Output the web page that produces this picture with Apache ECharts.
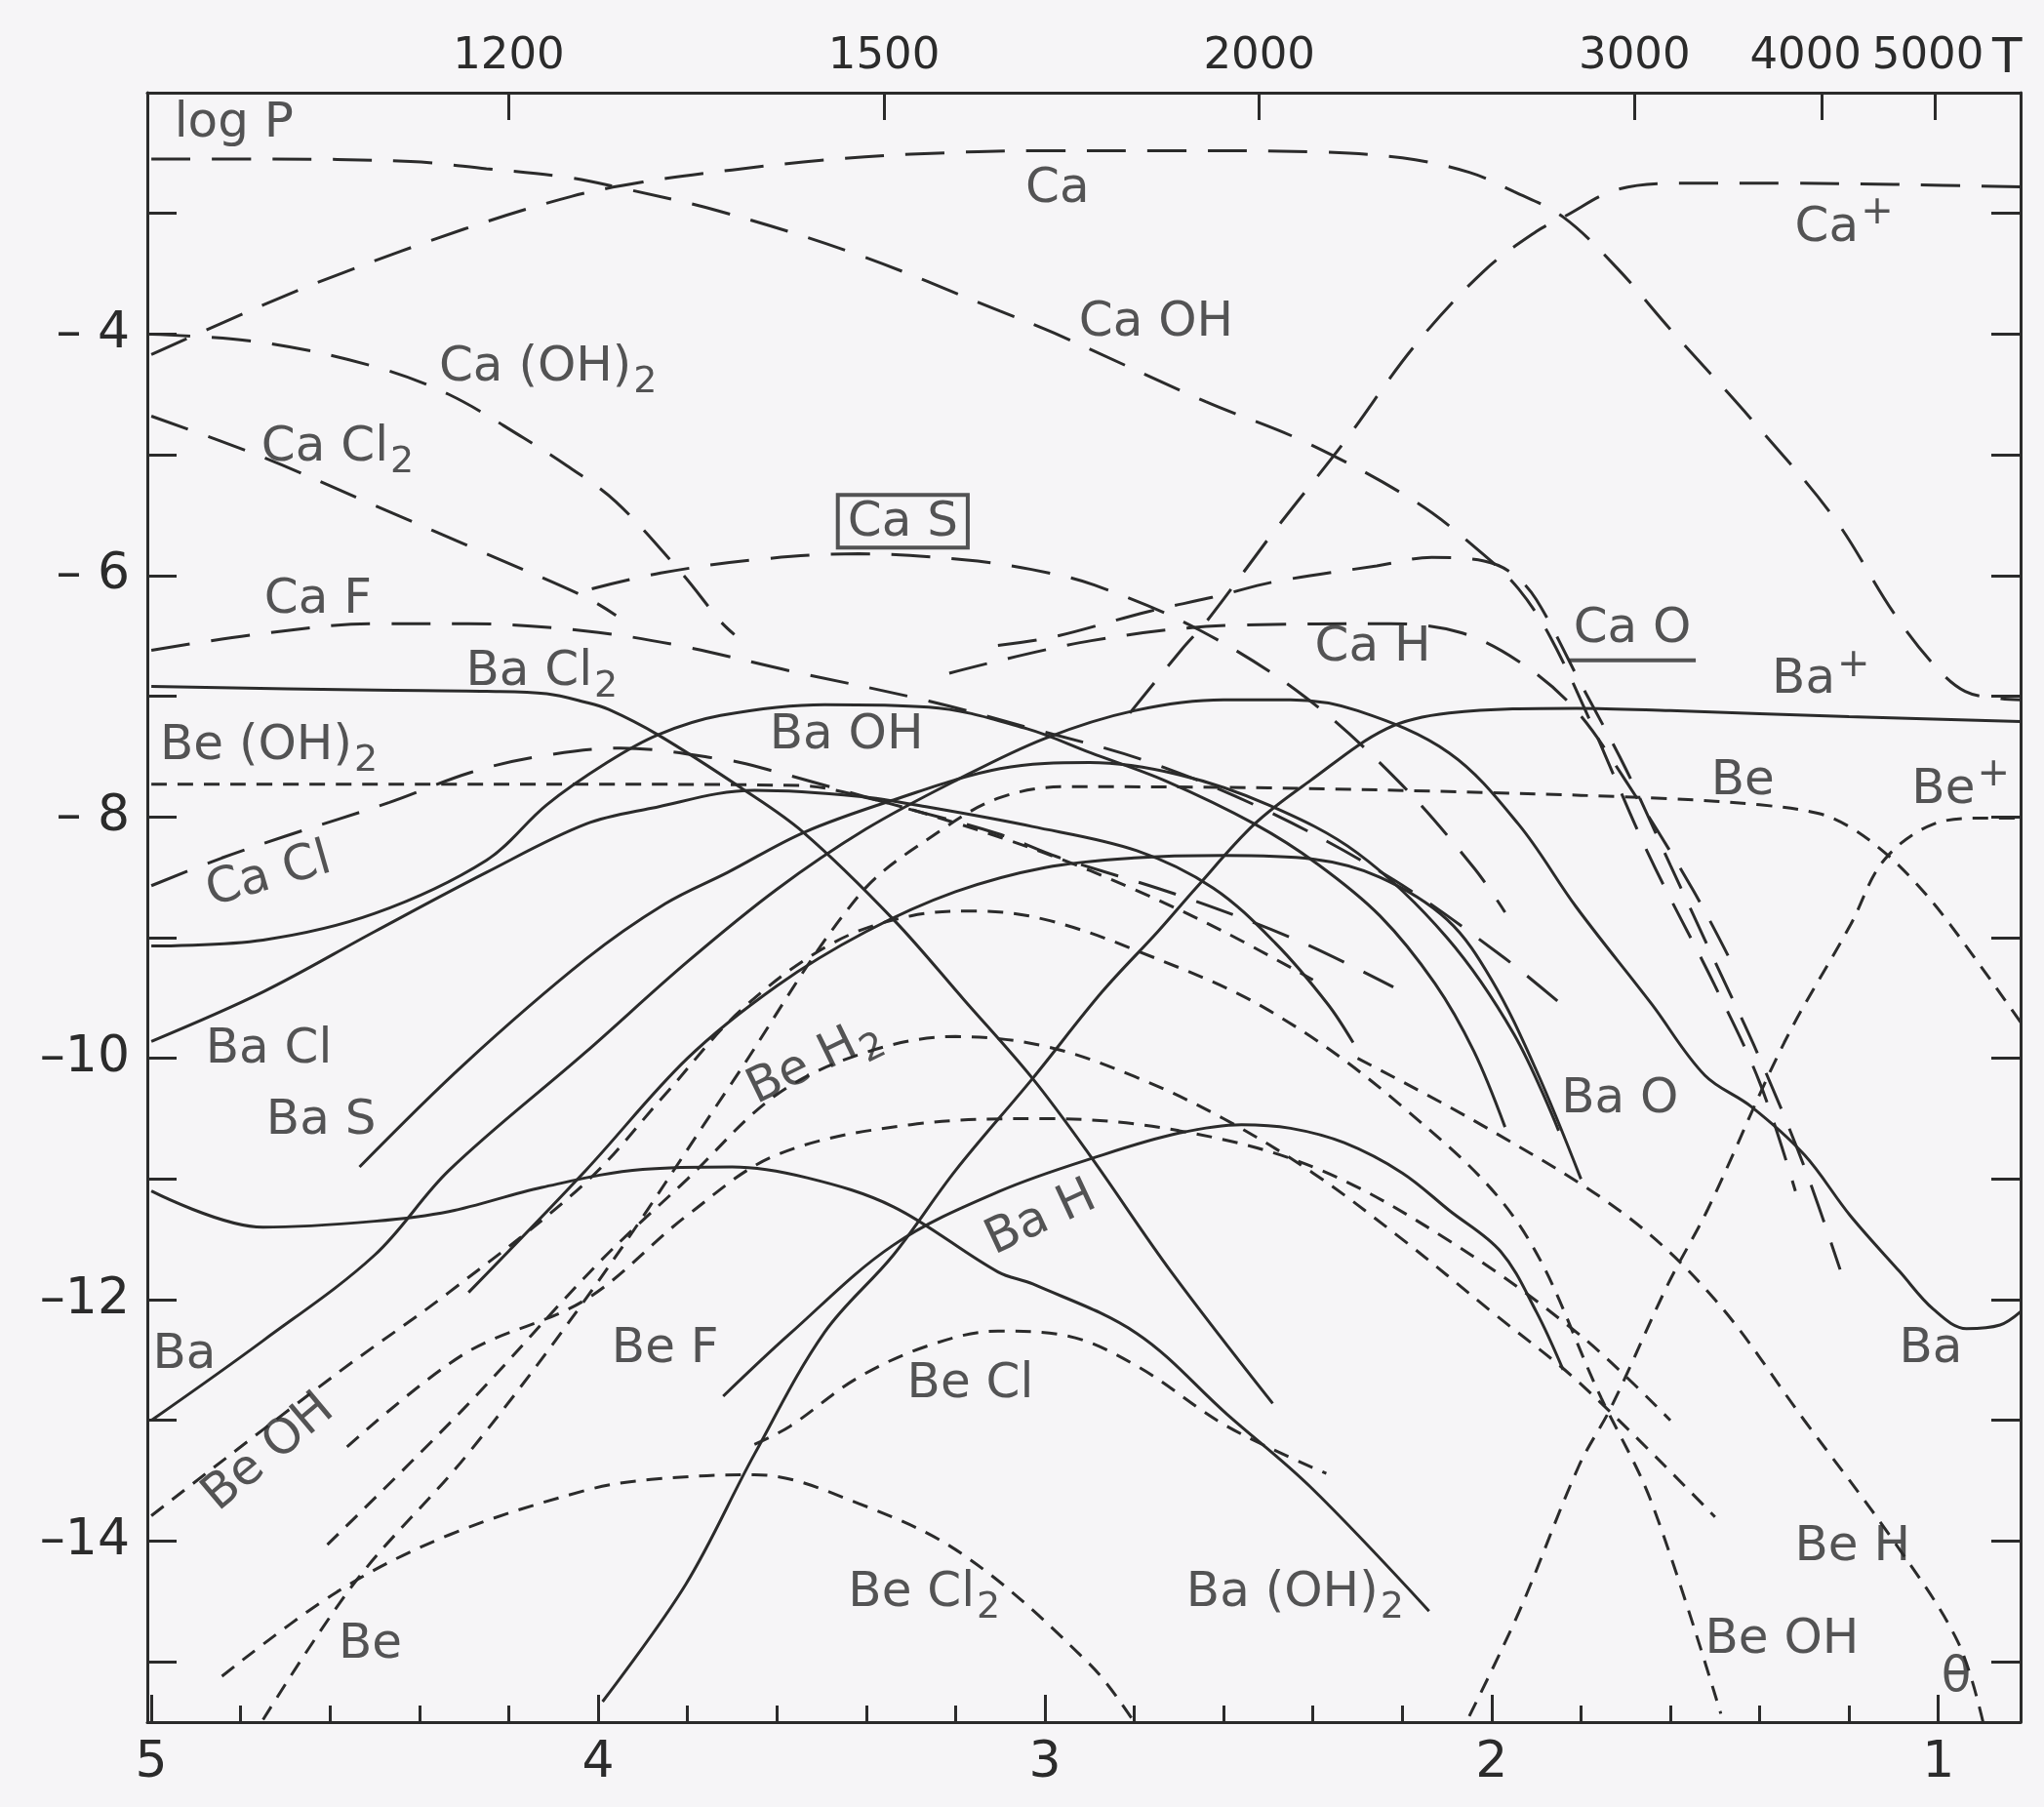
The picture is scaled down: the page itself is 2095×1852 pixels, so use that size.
<!DOCTYPE html>
<html>
<head>
<meta charset="utf-8">
<script src="https://cdn.jsdelivr.net/npm/echarts@6/dist/echarts.min.js"></script>
<style>
html, body { margin: 0; padding: 0; background: #f6f5f7; }
#chart { width: 2095px; height: 1852px; }
</style>
</head>
<body>
<div id="chart"></div>
<script>
// x = theta (5040/T), y = log P
// Ca species (long dashes)
const ca = [[5,-4.17],[4.75,-3.76],[4.584,-3.51],[4.3,-3.13],[4.06,-2.86],[3.9,-2.74],[3.7,-2.64],[3.5,-2.56],[3.3,-2.51],[3.0,-2.48],[2.7,-2.48],[2.4,-2.49],[2.2,-2.54],[2.05,-2.66],[1.95,-2.82],[1.84,-3.03],[1.72,-3.45],[1.6,-3.96],[1.42,-4.70],[1.234,-5.52],[1.10,-6.31],[1.01,-6.74],[0.94,-6.96],[0.86,-7.02],[0.816,-7.03]];
const caPlus = [[2.81,-7.14],[2.693,-6.61],[2.638,-6.38],[2.484,-5.62],[2.329,-4.89],[2.173,-4.10],[2.018,-3.48],[1.90,-3.15],[1.839,-3.03],[1.717,-2.80],[1.569,-2.75],[1.345,-2.75],[1.1,-2.76],[0.816,-2.78]];
const caOH = [[5,-2.55],[4.75,-2.55],[4.42,-2.57],[4.25,-2.63],[4.07,-2.70],[3.96,-2.78],[3.73,-2.98],[3.42,-3.34],[3.1,-3.81],[2.98,-3.99],[2.64,-4.56],[2.42,-4.89],[2.17,-5.39],[2.02,-5.82],[1.94,-6.11],[1.87,-6.5],[1.78,-7.2],[1.65,-8.3],[1.5,-9.4],[1.4,-10.2],[1.32,-11.1]];
const caOH2 = [[5,-4.0],[4.75,-4.07],[4.5,-4.27],[4.334,-4.50],[4.167,-4.86],[4.07,-5.09],[3.96,-5.39],[3.813,-5.98],[3.726,-6.38],[3.695,-6.49]];
const caCl2 = [[5,-4.68],[4.75,-5.02],[4.5,-5.42],[4.25,-5.82],[4.028,-6.18],[3.96,-6.33]];
const caS = [[4.014,-6.11],[3.86,-5.98],[3.65,-5.87],[3.416,-5.82],[3.18,-5.87],[3.03,-5.95],[2.889,-6.08],[2.655,-6.45],[2.42,-7.0],[2.21,-7.70],[2.04,-8.42],[1.97,-8.79]];
const caF = [[5,-6.62],[4.75,-6.48],[4.5,-6.40],[4.29,-6.40],[4.028,-6.46],[3.82,-6.58],[3.571,-6.79],[3.26,-7.04],[3.028,-7.27],[2.779,-7.53],[2.514,-7.93],[2.22,-8.52],[1.978,-9.15],[1.845,-9.55]];
const caCl = [[5,-8.57],[4.842,-8.34],[4.70,-8.16],[4.467,-7.88],[4.284,-7.63],[4.134,-7.50],[3.95,-7.43],[3.71,-7.53],[3.618,-7.61],[3.339,-7.90],[3.105,-8.14],[2.973,-8.33],[2.70,-8.65],[2.437,-9.02],[2.22,-9.41]];
const caH = [[3.214,-6.81],[2.896,-6.54],[2.561,-6.41],[2.226,-6.40],[2.072,-6.47],[1.94,-6.71],[1.815,-7.10],[1.7,-7.7],[1.55,-8.6],[1.45,-9.3]];
const caO = [[3.105,-6.58],[2.982,-6.51],[2.77,-6.30],[2.624,-6.18],[2.483,-6.05],[2.257,-5.92],[2.134,-5.85],[2.017,-5.88],[1.955,-5.98],[1.9,-6.2],[1.8,-6.9],[1.7,-7.6],[1.6,-8.4],[1.5,-9.2],[1.4,-10.0],[1.3,-10.9],[1.22,-11.75]];

// Ba species (solid)
const baCl2 = [[5,-6.92],[4.5,-6.95],[4.25,-6.96],[4.115,-6.98],[4.028,-7.05],[3.976,-7.11],[3.866,-7.32],[3.68,-7.76],[3.54,-8.13],[3.339,-8.85],[3.18,-9.52],[3.027,-10.17],[2.9,-10.8],[2.717,-11.77],[2.49,-12.86]];
const baOH = [[5,-9.07],[4.75,-9.02],[4.5,-8.80],[4.25,-8.36],[4.115,-7.90],[3.98,-7.55],[3.866,-7.32],[3.726,-7.16],[3.493,-7.07],[3.26,-7.09],[3.04,-7.27],[2.897,-7.47],[2.731,-7.70],[2.53,-8.06],[2.39,-8.39],[2.25,-8.82],[2.127,-9.38],[2.04,-9.94],[1.97,-10.57]];
const baCl = [[5,-9.86],[4.75,-9.45],[4.5,-8.95],[4.25,-8.46],[4.028,-8.06],[3.883,-7.93],[3.65,-7.78],[3.416,-7.83],[3.26,-7.92],[3.028,-8.08],[2.794,-8.28],[2.623,-8.59],[2.483,-9.05],[2.367,-9.55],[2.31,-9.87]];
const baS = [[4.534,-10.90],[4.3,-10.05],[4.028,-9.18],[3.85,-8.72],[3.71,-8.46],[3.54,-8.13],[3.339,-7.86],[3.1,-7.6],[2.9,-7.55],[2.7,-7.65],[2.5,-7.9],[2.3,-8.3],[2.1,-9.0],[1.95,-9.8],[1.85,-10.6]];
const baO = [[4.29,-11.94],[4.028,-10.93],[3.8,-10.0],[3.6,-9.4],[3.4,-8.95],[3.2,-8.62],[3.0,-8.42],[2.8,-8.34],[2.6,-8.32],[2.4,-8.35],[2.25,-8.5],[2.1,-8.85],[2.0,-9.35],[1.9,-10.1],[1.8,-11.0]];
const baH = [[3.72,-12.8],[3.57,-12.28],[3.34,-11.55],[3.1,-11.1],[2.87,-10.80],[2.7,-10.62],[2.56,-10.55],[2.45,-10.58],[2.33,-10.70],[2.2,-10.95],[2.095,-11.26],[1.98,-11.6],[1.9,-12.1],[1.84,-12.58]];
const baOH2 = [[5,-11.10],[4.75,-11.40],[4.5,-11.35],[4.334,-11.27],[4.126,-11.07],[3.9,-10.92],[3.7,-10.9],[3.532,-10.99],[3.339,-11.23],[3.105,-11.77],[3.027,-11.87],[2.794,-12.28],[2.592,-12.95],[2.406,-13.55],[2.14,-14.58]];
const ba = [[5,-13.0],[4.75,-12.34],[4.5,-11.63],[4.334,-10.93],[4.028,-9.95],[3.8,-9.2],[3.6,-8.6],[3.4,-8.1],[3.2,-7.7],[3.0,-7.35],[2.8,-7.12],[2.6,-7.03],[2.45,-7.03],[2.3,-7.12],[2.095,-7.47],[1.94,-8.06],[1.81,-8.75],[1.642,-9.55],[1.523,-10.14],[1.419,-10.40],[1.3,-10.8],[1.198,-11.3],[1.086,-11.77],[1.011,-12.08],[0.937,-12.24],[0.862,-12.21],[0.816,-12.1]];
const baPlus = [[3.99,-15.33],[3.804,-14.36],[3.65,-13.28],[3.493,-12.27],[3.339,-11.63],[3.2,-10.93],[3.028,-10.17],[2.872,-9.45],[2.747,-8.95],[2.662,-8.59],[2.531,-8.06],[2.406,-7.70],[2.235,-7.27],[2.095,-7.14],[1.81,-7.10],[1.6,-7.12],[1.2,-7.17],[0.816,-7.21]];

// Be species (short dashes)
const be = [[4.75,-15.48],[4.542,-14.33],[4.292,-13.28],[4.0,-11.85],[3.7,-10.2],[3.416,-8.65],[3.236,-8.12],[3.1,-7.84],[2.95,-7.75],[2.5,-7.76],[2.0,-7.8],[1.6,-7.85],[1.4,-7.9],[1.27,-7.97],[1.2,-8.08],[1.122,-8.29],[1.05,-8.55],[0.974,-8.89],[0.816,-9.7]];
const beOH2 = [[5,-7.73],[4.5,-7.73],[4.0,-7.73],[3.55,-7.74],[3.4,-7.84],[3.2,-8.05],[3.0,-8.3],[2.8,-8.6],[2.6,-8.95],[2.4,-9.35]];
const bePlus = [[2.05,-15.45],[1.939,-14.59],[1.805,-13.38],[1.731,-12.88],[1.605,-11.87],[1.516,-11.25],[1.345,-9.87],[1.196,-8.89],[1.122,-8.36],[1.011,-8.06],[0.9,-8.01],[0.816,-8.01]];
const beH2 = [[4.606,-14.03],[4.3,-12.9],[4.0,-11.7],[3.8,-11.0],[3.6,-10.3],[3.4,-9.95],[3.2,-9.82],[3.0,-9.9],[2.8,-10.15],[2.6,-10.5],[2.4,-10.95],[2.2,-11.5],[2.0,-12.1],[1.8,-12.7],[1.5,-13.8]];
const beF = [[4.562,-13.22],[4.3,-12.45],[4.028,-12.0],[3.8,-11.3],[3.6,-10.8],[3.3,-10.55],[3.0,-10.5],[2.7,-10.6],[2.4,-10.9],[2.1,-11.5],[1.8,-12.3],[1.6,-13.0]];
const beOH = [[5,-13.79],[4.584,-12.61],[4.334,-11.94],[4.028,-11.03],[3.85,-10.3],[3.68,-9.6],[3.477,-9.05],[3.3,-8.82],[3.15,-8.78],[3.0,-8.85],[2.8,-9.1],[2.5,-9.6],[2.2,-10.4],[1.94,-11.37],[1.754,-12.82],[1.642,-13.68],[1.487,-15.43]];
const beCl = [[3.65,-13.2],[3.571,-13.05],[3.42,-12.65],[3.26,-12.38],[3.105,-12.26],[2.95,-12.3],[2.794,-12.55],[2.592,-13.05],[2.37,-13.44]];
const beCl2 = [[4.842,-15.12],[4.584,-14.42],[4.334,-13.95],[4.028,-13.58],[3.882,-13.49],[3.65,-13.45],[3.416,-13.69],[3.18,-14.12],[2.897,-15.03],[2.8,-15.5]];
const beH = [[2.3,-10.0],[2.0,-10.6],[1.7,-11.3],[1.5,-12.0],[1.3,-13.0],[1.1,-14.0],[0.957,-14.83],[0.9,-15.5]];

// axis ticks
const thetaMajor = [1, 2, 3, 4, 5];
const thetaMinor = [1.2,1.4,1.6,1.8,2.2,2.4,2.6,2.8,3.2,3.4,3.6,3.8,4.2,4.4,4.6,4.8];
const tempTicks = [1200, 1500, 2000, 3000, 4000, 5000];
const logTicks = [-3,-4,-5,-6,-7,-8,-9,-10,-11,-12,-13,-14,-15];
const logLabels = [-4,-6,-8,-10,-12,-14];

// curve labels
const labelPos = [[4.815,-2.26],[2.972,-2.80],[1.211,-3.12],[2.751,-3.91],[4.112,-4.28],[4.583,-4.94],[3.318,-5.55],[4.627,-6.2],[4.126,-6.8],[2.266,-6.6],[1.685,-6.5],[1.263,-6.87],[4.737,-7.42],[3.444,-7.33],[1.438,-7.71],[0.95,-7.78],[4.737,-8.49],[4.737,-9.93],[4.62,-10.52],[3.516,-10.03],[1.713,-10.34],[3.008,-11.33],[4.926,-12.46],[3.85,-12.41],[3.167,-12.70],[1.017,-12.41],[4.737,-13.27],[1.192,-14.05],[3.27,-14.43],[2.44,-14.43],[4.51,-14.86],[1.35,-14.82],[0.96,-15.14]];
const labelText = ['log P','Ca','Ca{p|+}','Ca OH','Ca (OH){s|2}','Ca Cl{s|2}','Ca S','Ca F','Ba Cl{s|2}','Ca H','Ca O','Ba{p|+}','Be (OH){s|2}','Ba OH','Be','Be{p|+}','Ca Cl','Ba Cl','Ba S','Be H{s|2}','Ba O','Ba H','Ba','Be F','Be Cl','Ba','Be OH','Be H','Be Cl{s|2}','Ba (OH){s|2}','Be','Be OH','θ'];
const labelRot = [0,0,0,0,0,0,0,0,0,0,0,0,0,0,0,0,16,0,0,26,0,25,0,0,0,0,40,0,0,0,0,0,0];

const ink = '#2b2b2b';
const font = "'DejaVu Sans', sans-serif";
const X_MIN = 0.816, X_MAX = 5.009;

function curve(data, kind) {
  const dash = kind === 'ca' ? [40, 22] : (kind === 'be' ? [16, 11] : 'solid');
  return {
    type: 'line', data: data, smooth: 0.35, symbol: 'none', silent: true,
    lineStyle: { color: ink, width: 3, type: dash }
  };
}

const series = [
  curve(ca, 'ca'), curve(caPlus, 'ca'), curve(caOH, 'ca'), curve(caOH2, 'ca'),
  curve(caCl2, 'ca'), curve(caS, 'ca'), curve(caF, 'ca'), curve(caCl, 'ca'),
  curve(caH, 'ca'), curve(caO, 'ca'),
  curve(baCl2, 'ba'), curve(baOH, 'ba'), curve(baCl, 'ba'), curve(baS, 'ba'),
  curve(baO, 'ba'), curve(baH, 'ba'), curve(baOH2, 'ba'), curve(ba, 'ba'), curve(baPlus, 'ba'),
  curve(be, 'be'), curve(beOH2, 'be'), curve(bePlus, 'be'), curve(beH2, 'be'),
  curve(beF, 'be'), curve(beOH, 'be'), curve(beCl, 'be'), curve(beCl2, 'be'), curve(beH, 'be')
];

const labelData = labelPos.map(function (p, i) {
  const txt = '{t|' + labelText[i].replace(/\{([sp])\|/g, '}{$1|').replace(/\}$/, '') + '}';
  return { value: p, label: { formatter: txt.replace('{t|}', ''), rotate: labelRot[i] } };
});

// boxed Ca S, underlined Ca O
labelData[6].label.borderColor = ink;
labelData[6].label.borderWidth = 4;
labelData[6].label.padding = [4, 10, 0, 10];
labelData[10].label.formatter = '{t|Ca O}\n{u|}';

series.push({
  type: 'scatter', data: labelData, symbolSize: 0, silent: true, z: 10,
  label: {
    show: true, position: 'inside', color: ink,
    rich: {
      t: { fontSize: 50, fontFamily: font, color: ink },
      s: { fontSize: 38, fontFamily: font, color: ink, padding: [30, 0, 0, 2] },
      p: { fontSize: 40, fontFamily: font, color: ink, padding: [0, 0, 30, 2] },
      u: { width: 130, height: 4, lineHeight: 14, backgroundColor: ink }
    }
  }
});

const tickStyle = { color: ink, width: 3 };
const thetaTop = tempTicks.map(function (t) { return 5040 / t; });
const chart = echarts.init(document.getElementById('chart'));
chart.setOption({
  backgroundColor: '#f6f5f7',
  animation: false,
  grid: { left: 151, right: 24, top: 95, bottom: 87 },
  xAxis: [
    { type: 'value', position: 'bottom', min: X_MIN, max: X_MAX, inverse: true,
      axisLine: { lineStyle: tickStyle }, splitLine: { show: false },
      axisTick: { inside: true, length: 28, lineStyle: tickStyle, customValues: thetaMajor },
      axisLabel: { customValues: thetaMajor, hideOverlap: false, formatter: function (v) { return String(Math.round(v)); },
        margin: 16, color: ink, fontSize: 52, fontFamily: font } },
    { type: 'value', position: 'bottom', min: X_MIN, max: X_MAX, inverse: true,
      axisLine: { show: false }, splitLine: { show: false },
      axisTick: { inside: true, length: 17, lineStyle: tickStyle, customValues: thetaMinor },
      axisLabel: { show: false } },
    { type: 'value', position: 'top', min: X_MIN, max: X_MAX, inverse: true,
      axisLine: { lineStyle: tickStyle }, splitLine: { show: false },
      axisTick: { inside: true, length: 28, lineStyle: tickStyle, customValues: thetaTop },
      axisLabel: { customValues: thetaTop, hideOverlap: false,
        formatter: function (v) {
          const t = Math.round(5040 / v / 100) * 100;
          if (t === 4000) return '{l|' + t + '}';
          if (t === 5000) return '{m|' + t + '}';
          return String(t);
        },
        rich: {
          l: { fontSize: 45, fontFamily: font, color: ink, padding: [0, 34, 0, 0] },
          m: { fontSize: 45, fontFamily: font, color: ink, padding: [0, 14, 0, 0] }
        },
        margin: 14, color: ink, fontSize: 45, fontFamily: font } }
  ],
  yAxis: [
    { type: 'value', position: 'left', min: -15.5, max: -2,
      axisLine: { show: true, lineStyle: tickStyle }, splitLine: { show: false },
      axisTick: { show: true, inside: true, length: 30, lineStyle: tickStyle, customValues: logTicks },
      axisLabel: { customValues: logLabels, hideOverlap: false, formatter: function (v) { return v > -10 ? '\u2013 ' + (-v) : '\u2013' + (-v); },
        margin: 18, color: ink, fontSize: 52, fontFamily: font } },
    { type: 'value', position: 'right', min: -15.5, max: -2,
      axisLine: { show: true, lineStyle: tickStyle }, splitLine: { show: false },
      axisTick: { show: true, inside: true, length: 30, lineStyle: tickStyle, customValues: logTicks },
      axisLabel: { show: false } }
  ],
  graphic: [{ type: 'text', left: 2042, top: 36, style: { text: 'T', fontSize: 50, fontFamily: font, fill: ink } }],
  series: series
});
</script>
</body>
</html>
